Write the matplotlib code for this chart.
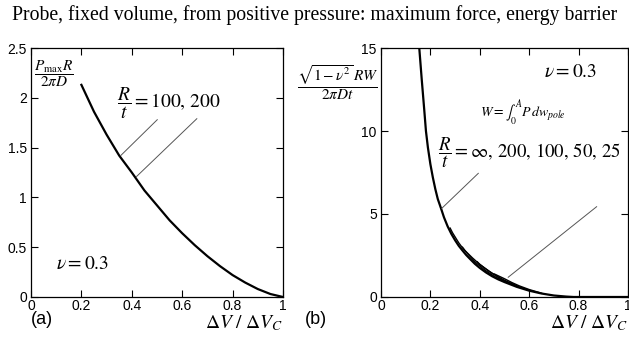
import matplotlib
matplotlib.use('Agg')
import matplotlib.pyplot as plt

plt.rcParams['font.family'] = ['Liberation Sans', 'DejaVu Sans']
plt.rcParams['mathtext.fontset'] = 'stix'

# panel (a): maximum force vs volume ratio
force_x = [0.2, 0.25, 0.3, 0.35, 0.4, 0.45, 0.5, 0.55, 0.6, 0.65, 0.7,
           0.75, 0.8, 0.85, 0.9, 0.95, 1.0]
force_y = [2.13, 1.86, 1.63, 1.42, 1.25, 1.07, 0.92, 0.77, 0.64, 0.52, 0.41,
           0.31, 0.22, 0.145, 0.08, 0.03, 0.0]

# panel (b): energy barrier, R/t = inf (main curve) and finite R/t branches
energy_x = [0.155, 0.165, 0.175, 0.182, 0.19, 0.2, 0.21, 0.22, 0.23, 0.243,
            0.255, 0.27, 0.285, 0.3, 0.315, 0.33, 0.345, 0.36, 0.38, 0.4,
            0.425, 0.45, 0.475, 0.5, 0.55, 0.6, 0.65, 0.7, 0.75, 0.78, 0.9, 1.0]
energy_y = [15.0, 13.1, 11.3, 10.0, 9.0, 8.0, 7.2, 6.5, 5.9, 5.34,
            4.8, 4.25, 3.8, 3.42, 3.08, 2.8, 2.53, 2.3, 2.0, 1.75,
            1.48, 1.25, 1.06, 0.9, 0.61, 0.38, 0.21, 0.09, 0.025, 0.0, 0.0, 0.0]
b200_x = [0.28, 0.29, 0.30, 0.315, 0.33, 0.35, 0.38, 0.42, 0.46, 0.5]
b200_y = [4.15, 3.86, 3.62, 3.26, 2.96, 2.62, 2.12, 1.63, 1.23, 0.94]
b100_x = [0.33, 0.34, 0.35, 0.37, 0.4, 0.44, 0.5, 0.55]
b100_y = [3.0, 2.8, 2.65, 2.36, 1.96, 1.53, 0.98, 0.66]
b50_x = [0.39, 0.40, 0.42, 0.45, 0.48, 0.52, 0.56, 0.6]
b50_y = [2.12, 1.97, 1.74, 1.42, 1.15, 0.87, 0.61, 0.41]
b25_x = [0.46, 0.48, 0.5, 0.53, 0.56, 0.6, 0.65]
b25_y = [1.38, 1.24, 1.1, 0.87, 0.67, 0.45, 0.23]

fig = plt.figure(figsize=(6.29, 3.39), dpi=100)
ax1 = fig.add_axes([0.0493, 0.1239, 0.4006, 0.7345])
ax2 = fig.add_axes([0.6057, 0.1239, 0.3927, 0.7345])

for ax in (ax1, ax2):
    ax.tick_params(direction='in', top=True, right=True, length=5, width=0.8,
                   labelsize=10)
    ax.tick_params(axis='x', pad=1.5)
    ax.tick_params(axis='y', pad=3)
    for s in ax.spines.values():
        s.set_linewidth(0.9)
    ax.set_xlim(0, 1)
    ax.set_xticks([0, 0.2, 0.4, 0.6, 0.8, 1])
    ax.set_xticklabels(['0', '0.2', '0.4', '0.6', '0.8', '1'])

# (a)
ax1.plot(force_x, force_y, color='black', lw=1.6)
ax1.set_ylim(0, 2.5)
ax1.set_yticks([0, 0.5, 1, 1.5, 2, 2.5])
ax1.set_yticklabels(['0', '0.5', '1', '1.5', '2', '2.5'])
ax1.plot([0.356, 0.501], [1.42, 1.78], color='#555555', lw=0.7)
ax1.plot([0.419, 0.658], [1.21, 1.79], color='#555555', lw=0.7)
ax1.text(0.01, 2.24, r'$\dfrac{P_{\rm max}R}{2\pi D}$', fontsize=11, va='center')
ax1.text(0.34, 1.94, r'$\dfrac{R}{t} = 100,\,200$', fontsize=14, va='center')
ax1.text(0.1, 0.33, r'$\nu = 0.3$', fontsize=14, va='center')
ax1.text(0.0, -0.055, '(a)', transform=ax1.transAxes, fontsize=13, va='top')
ax1.text(1.0, -0.125, r'$\Delta V\ /\ \Delta V_C$', transform=ax1.transAxes,
         fontsize=14, va='baseline', ha='right')

# (b)
ax2.plot(energy_x, energy_y, color='black', lw=1.6)
for bx, by in [(b200_x, b200_y), (b100_x, b100_y), (b50_x, b50_y), (b25_x, b25_y)]:
    ax2.plot(bx, by, color='black', lw=1.0)
ax2.set_ylim(0, 15)
ax2.set_yticks([0, 5, 10, 15])
ax2.plot([0.246, 0.394], [5.34, 7.45], color='#555555', lw=0.7)
ax2.plot([0.515, 0.873], [1.19, 5.44], color='#555555', lw=0.7)
ax2.text(-0.34, 0.86, r'$\dfrac{\sqrt{1-\nu^2}\,RW}{2\pi Dt}$', transform=ax2.transAxes,
         fontsize=11, va='center', ha='left')
ax2.text(0.66, 13.5, r'$\nu = 0.3$', fontsize=14, va='center')
ax2.text(0.4, 11.1, r'$W = \int_0^A P\,dw_{pole}$', fontsize=10, va='center')
ax2.text(0.23, 8.7, r'$\dfrac{R}{t} = \infty,\,200,\,100,\,50,\,25$', fontsize=13.5, va='center')
ax2.text(-0.31, -0.055, '(b)', transform=ax2.transAxes, fontsize=13, va='top')
ax2.text(1.0, -0.125, r'$\Delta V\ /\ \Delta V_C$', transform=ax2.transAxes,
         fontsize=14, va='baseline', ha='right')

fig.text(0.5, 0.955, 'Probe, fixed volume, from positive pressure: maximum force, energy barrier',
         family='Liberation Serif', fontsize=14.2, ha='center', va='center')

plt.savefig('out.png', dpi=100)
